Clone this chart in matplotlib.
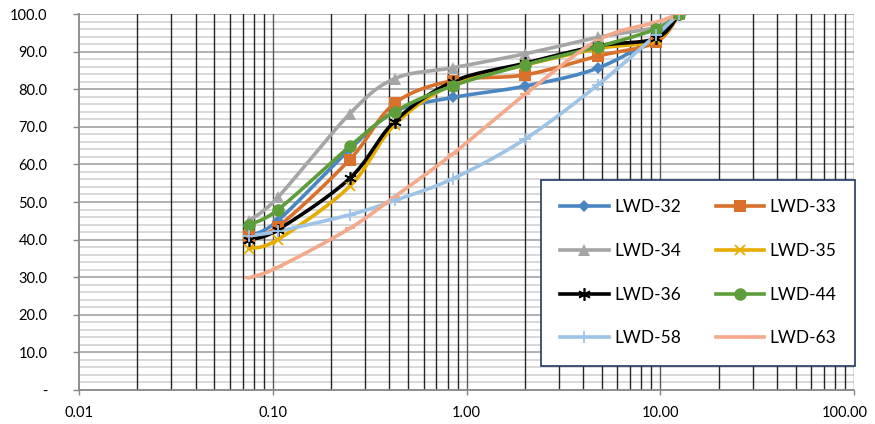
import numpy as np
import matplotlib
matplotlib.use("Agg")
import matplotlib.pyplot as plt
import matplotlib.transforms as mtransforms
from matplotlib.ticker import FixedLocator, NullFormatter

# Sieve sizes (mm) and percent passing for each sample
sizes = [0.075, 0.106, 0.25, 0.425, 0.85, 2.0, 4.75, 9.5, 12.5]

lwd_32 = [41.0, 45.0, 64.0, 74.0, 77.8, 80.8, 85.6, 94.0, 100.0]
lwd_33 = [41.0, 43.4, 61.3, 76.2, 82.3, 83.8, 88.8, 92.5, 100.0]
lwd_34 = [45.0, 51.2, 73.5, 82.8, 85.7, 89.4, 93.8, 96.5, 100.0]
lwd_35 = [37.6, 40.0, 54.2, 70.5, 81.3, 86.4, 90.8, 93.0, 100.0]
lwd_36 = [40.0, 42.6, 56.3, 71.4, 82.0, 86.9, 91.5, 93.5, 100.0]
lwd_44 = [44.0, 47.9, 64.8, 74.0, 80.9, 86.5, 91.3, 96.0, 100.0]
lwd_58 = [41.0, 42.2, 46.6, 50.4, 56.2, 66.7, 81.1, 94.4, 100.0]
lwd_63 = [29.8, 32.6, 43.0, 51.4, 62.8, 78.6, 93.0, 97.8, 100.0]

series_names = ["LWD-32", "LWD-33", "LWD-34", "LWD-35",
                "LWD-36", "LWD-44", "LWD-58", "LWD-63"]
series_values = [lwd_32, lwd_33, lwd_34, lwd_35, lwd_36, lwd_44, lwd_58, lwd_63]

x_ticks = [0.01, 0.1, 1, 10, 100]
x_tick_labels = ["0.01", "0.10", "1.00", "10.00", "100.00"]
y_ticks = [0, 10, 20, 30, 40, 50, 60, 70, 80, 90, 100]
y_tick_labels = ["-"] + [f"{v:.1f}" for v in y_ticks[1:]]

styles = [
    dict(color="#4A86C2", marker="D", ms=6.5, mew=0),
    dict(color="#D9702B", marker="s", ms=8, mew=0),
    dict(color="#A5A5A5", marker="^", ms=8.5, mew=0),
    dict(color="#E6AC00", marker="x", ms=7.5, mew=1.3),
    dict(color="#000000", marker=(6, 2, 0), ms=9, mew=1.2),
    dict(color="#5E9E3A", marker="o", ms=9, mew=0),
    dict(color="#9DC3E6", marker="+", ms=9, mew=1.3),
    dict(color="#F4A98A", marker="_", ms=7, mew=1.5),
]

FONT = ["Lato", "DejaVu Sans"]
plt.rcParams["font.family"] = FONT

fig = plt.figure(figsize=(8.75, 4.24), dpi=100)
W, H = 875, 424
left, right, top, bottom = 79, 854, 14, 390
ax = fig.add_axes([left / W, 1 - bottom / H, (right - left) / W, (bottom - top) / H])

ax.set_xscale("log")
ax.set_xlim(0.01, 100)
ax.set_ylim(0, 100)

# pixel scale of one decade / one percent, used for the curve smoothing
sx = (right - left) / 4.0
sy = (bottom - top) / 100.0


def smooth_curve(xs, ys, n=40):
    """Catmull-Rom style smoothed path through the points (log-x space)."""
    px = np.log10(np.asarray(xs, float)) * sx
    py = np.asarray(ys, float) * sy
    pts = np.column_stack([px, py])
    out = [pts[0]]
    m = len(pts)
    for i in range(m - 1):
        p0 = pts[i - 1] if i > 0 else pts[i]
        p1 = pts[i]
        p2 = pts[i + 1]
        p3 = pts[i + 2] if i + 2 < m else pts[i + 1]
        c1 = p1 + (p2 - p0) / 6.0
        c2 = p2 - (p3 - p1) / 6.0
        t = np.linspace(0, 1, n)[1:, None]
        seg = ((1 - t) ** 3) * p1 + 3 * ((1 - t) ** 2) * t * c1 \
            + 3 * (1 - t) * t ** 2 * c2 + t ** 3 * p2
        out.extend(seg)
    out = np.array(out)
    return 10 ** (out[:, 0] / sx), out[:, 1] / sy


# grid
for v in np.arange(2, 100, 2):
    if v % 10:
        ax.axhline(v, color="#D6D6D6", lw=1.3, zorder=0)
for v in range(10, 101, 10):
    ax.axhline(v, color="#ABABAB", lw=1.3, zorder=0)
for dec in [0.01, 0.1, 1, 10]:
    for k in range(2, 10):
        ax.axvline(dec * k, color="#262626", lw=1.0, zorder=0.5)
for dec in [0.1, 1, 10, 100]:
    ax.axvline(dec, color="#595959", lw=1.0, zorder=0.5)

handles = {}
for name, vals, st in zip(series_names, series_values, styles):
    cx, cy = smooth_curve(sizes, vals)
    ax.plot(cx, cy, color=st["color"], lw=2.6, solid_capstyle="round", zorder=2)
    ax.plot(sizes, vals, ls="none", color=st["color"], marker=st["marker"],
            ms=st["ms"], mew=st["mew"], mec=st["color"], zorder=3)
    h, = ax.plot([], [], color=st["color"], lw=2.6, marker=st["marker"],
                 ms=st["ms"], mew=st["mew"], mec=st["color"], label=name)
    handles[name] = h

ax.xaxis.set_major_locator(FixedLocator(x_ticks))
ax.xaxis.set_minor_locator(FixedLocator([]))
ax.xaxis.set_minor_formatter(NullFormatter())
ax.set_xticklabels(x_tick_labels)
ax.set_yticks(y_ticks)
ax.set_yticklabels(y_tick_labels)
ax.tick_params(axis="x", length=3.6, width=1, color="#868686", pad=8,
               labelsize=10.5, labelcolor="#000000")
ax.tick_params(axis="y", length=4.3, width=1, color="#868686", pad=18.5,
               labelsize=10.5, labelcolor="#000000")
for lab in ax.get_yticklabels():
    lab.set_horizontalalignment("right")

# keep the last x label inside the figure edge
last = ax.get_xticklabels()[-1]
last.set_transform(last.get_transform() +
                   mtransforms.ScaledTranslation(-9 / 100, 0, fig.dpi_scale_trans))

for s in ["top", "right"]:
    ax.spines[s].set_visible(False)
for s in ["left", "bottom"]:
    ax.spines[s].set_color("#868686")
    ax.spines[s].set_linewidth(1.3)

# legend entries laid out row by row (two per row)
legend_order = ["LWD-32", "LWD-34", "LWD-36", "LWD-58",
                "LWD-33", "LWD-35", "LWD-44", "LWD-63"]
leg = fig.legend(handles=[handles[n] for n in legend_order], ncol=2,
                 loc="upper left", bbox_to_anchor=(541 / W, 1 - 180 / H),
                 frameon=True, fancybox=False, framealpha=1,
                 fontsize=12.5, handlelength=2.8, handletextpad=0.3,
                 columnspacing=2.0, labelspacing=1.6, borderpad=1.1,
                 borderaxespad=0)
leg.get_frame().set_edgecolor("#1F3864")
leg.get_frame().set_linewidth(1.2)

fig.savefig("out.png", dpi=100)
